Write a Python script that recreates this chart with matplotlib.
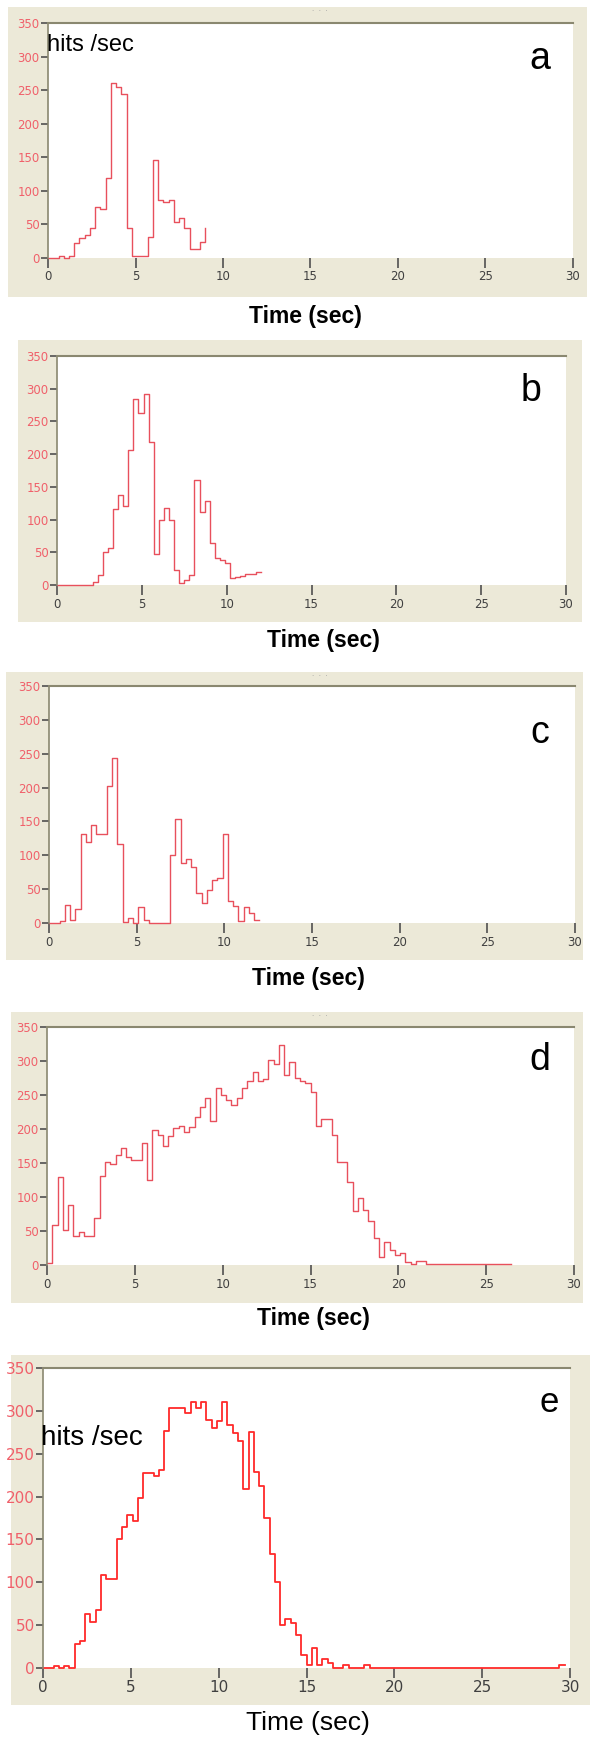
import matplotlib
matplotlib.use("Agg")
import matplotlib.pyplot as plt
from matplotlib.patches import Rectangle
import numpy as np

# hits per second, one value per 0.3 s bin (last value closes the trace)
bin_width = 0.3

rate_a = [0, 0, 3, 0, 3, 23, 30, 34, 45, 76, 73, 119, 260, 255, 245, 45, 3, 3, 3, 32,
          146, 86, 83, 87, 54, 60, 44, 14, 14, 24, 45]

rate_b = [0, 0, 0, 0, 0, 0, 0, 5, 15, 50, 56, 116, 138, 120, 207, 284, 263, 292, 218, 48,
          100, 117, 100, 23, 3, 7, 15, 161, 112, 128, 64, 41, 38, 33, 10, 12, 14, 17, 17, 20,
          20]

rate_c = [0, 0, 3, 27, 4, 21, 131, 120, 145, 131, 131, 202, 244, 116, 2, 7, 0, 24, 5, 0,
          0, 0, 0, 101, 153, 88, 94, 83, 44, 29, 49, 64, 66, 132, 32, 25, 3, 23, 15, 5,
          5]

rate_d = [3, 59, 129, 51, 88, 42, 49, 43, 43, 69, 131, 152, 148, 162, 172, 159, 154, 154, 179, 125,
          198, 191, 175, 190, 201, 205, 195, 203, 218, 233, 245, 212, 261, 250, 243, 236, 245, 260, 270, 284,
          270, 274, 301, 296, 324, 279, 298, 275, 270, 268, 255, 205, 215, 215, 191, 152, 152, 122, 80, 98,
          81, 65, 39, 12, 34, 22, 15, 17, 5, 2, 6, 6, 1, 1, 1, 1, 1, 1, 1, 1,
          1, 1, 1, 1, 1, 1, 1, 1, 1]

rate_e = [0, 0, 2, 0, 2, 0, 28, 32, 63, 54, 68, 108, 104, 104, 151, 164, 178, 171, 198, 228,
          228, 224, 231, 277, 303, 303, 303, 297, 310, 303, 310, 289, 280, 288, 310, 284, 274, 265, 209, 275,
          229, 212, 175, 133, 100, 50, 57, 52, 38, 15, 3, 23, 4, 10, 6, 0, 0, 3, 0, 0,
          0, 3, 0, 0, 0, 0, 0, 0, 0, 0, 0, 0, 0, 0, 0, 0, 0, 0, 0, 0,
          0, 0, 0, 0, 0, 0, 0, 0, 0, 0, 0, 0, 0, 0, 0, 0, 0, 0, 3, 3]

panel_letters = ['a', 'b', 'c', 'd', 'e']
y_ticks = [0, 50, 100, 150, 200, 250, 300, 350]
x_ticks = [0, 5, 10, 15, 20, 25, 30]

W, H = 590, 1741
BEIGE = '#ECE9D8'
SPINE = '#8A8870'

fig = plt.figure(figsize=(W / 100, H / 100), dpi=100)
fig.patch.set_facecolor('white')

def fbox(l, r, t, b):
    return [l / W, 1 - b / H, (r - l) / W, (b - t) / H]

# layout in pixels: axes box, beige frame, label row, letter position
layout = [
    dict(ax=(48, 573, 23, 258), frame=(8, 587, 7, 297), lab=(305, 317), let=(540, 59), big=False),
    dict(ax=(57, 566, 356, 585), frame=(18, 582, 340, 622), lab=(323, 640), let=(531, 391), big=False),
    dict(ax=(49, 575, 686, 923), frame=(6, 583, 672, 960), lab=(308, 978), let=(540, 733), big=False),
    dict(ax=(47, 574, 1027, 1265), frame=(11, 583, 1012, 1303), lab=(313, 1318), let=(540, 1060), big=False),
    dict(ax=(43, 570, 1368, 1668), frame=(11, 590, 1355, 1705), lab=(308, 1723), let=(549, 1403), big=True),
]
rates = [rate_a, rate_b, rate_c, rate_d, rate_e]

narrow = ['Liberation Sans Narrow', 'DejaVu Sans']

for i, (spec, rate) in enumerate(zip(layout, rates)):
    l, r, t, b = spec['frame']
    fig.add_artist(Rectangle((l / W, 1 - b / H), (r - l) / W, (b - t) / H,
                             transform=fig.transFigure, facecolor=BEIGE,
                             edgecolor='none', zorder=-1))

    ax = fig.add_axes(fbox(*spec['ax']))
    ax.set_facecolor('white')
    times = np.arange(len(rate)) * bin_width
    if spec['big']:
        ax.step(times, rate, where='post', color='#FF2A2A', lw=1.3, clip_on=False)
    else:
        ax.step(times, rate, where='post', color='#E8505C', lw=1.0, clip_on=False)

    ax.set_xlim(0, 30)
    ax.set_ylim(0, 350)
    ax.set_xticks(x_ticks)
    ax.set_yticks(y_ticks)
    ax.set_xticklabels([str(v) for v in x_ticks])
    ax.set_yticklabels([str(v) for v in y_ticks])

    fs = 11 if spec['big'] else 8.5
    ax.tick_params(axis='y', direction='out', length=5, width=1.2, color='#505050',
                   pad=1, labelsize=fs, labelcolor='#F0606A')
    ax.tick_params(axis='x', direction='out', length=7, width=1.2, color='#505050',
                   pad=2, labelsize=fs, labelcolor='#404040')
    for lab in ax.get_xticklabels() + ax.get_yticklabels():
        lab.set_family(narrow)

    ax.spines['right'].set_visible(False)
    ax.spines['bottom'].set_visible(False)
    ax.spines['left'].set_color(SPINE)
    ax.spines['top'].set_color(SPINE)
    ax.spines['left'].set_linewidth(1.2)
    ax.spines['top'].set_linewidth(1.5)

    # panel letter
    lx, ly = spec['let']
    fig.text(lx / W, 1 - ly / H, panel_letters[i], ha='center', va='center',
             fontsize=27 if not spec['big'] else 25, family='Liberation Sans', color='black')

    # x axis title under each frame
    tx, ty = spec['lab']
    if spec['big']:
        fig.text(tx / W, 1 - ty / H, 'Time (sec)', ha='center', va='center',
                 fontsize=19, family='Liberation Sans', color='black')
    else:
        fig.text(tx / W, 1 - ty / H, 'Time (sec)', ha='center', va='center',
                 fontsize=16.5, fontweight='bold', family='Liberation Sans', color='black')

    # little grip dots at the top of some frames
    if i in (0, 2, 3):
        fig.text(320 / W, 1 - (t + 4) / H, '·  ·  ·', ha='center', va='center',
                 fontsize=5, color='#A0A0A0')

# y unit labels
fig.text(47 / W, 1 - 45 / H, 'hits /sec', ha='left', va='center',
         fontsize=17, family='Liberation Sans', color='black')
fig.text(41 / W, 1 - 1438 / H, 'hits /sec', ha='left', va='center',
         fontsize=20, family='Liberation Sans', color='black')

fig.savefig('out.png', dpi=100)
